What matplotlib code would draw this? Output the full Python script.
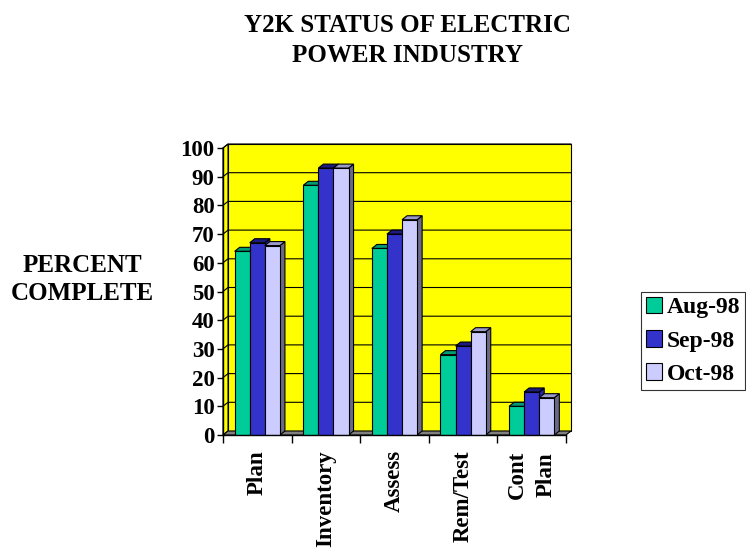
import numpy as np
import matplotlib
matplotlib.use("Agg")
import matplotlib.pyplot as plt
from matplotlib.patches import Polygon, Rectangle, Patch

categories = ["Plan", "Inventory", "Assess", "Rem/Test", "Cont\nPlan"]
series_names = ["Aug-98", "Sep-98", "Oct-98"]
aug_98 = [64, 87, 65, 28, 10]
sep_98 = [67, 93, 70, 31, 15]
oct_98 = [66, 93, 75, 36, 13]
y_ticks = list(range(0, 101, 10))

# front, top and side shades for each series
face_colors = ["#00cc99", "#3333cc", "#ccccff"]
top_colors = ["#009a73", "#1c1c80", "#9a9acc"]
side_colors = ["#007a5c", "#262699", "#6a6a88"]

FONT = "Liberation Serif"
W, H, DPI = 7.46, 5.52, 100
fig = plt.figure(figsize=(W, H), dpi=DPI)

ax_left, ax_bottom, ax_w, ax_h = 223 / 746, 1 - 435 / 552, 343 / 746, 287 / 552
ax = fig.add_axes([ax_left, ax_bottom, ax_w, ax_h])
ax.set_xlim(0, 5)
ax.set_ylim(0, 100)
ax.set_facecolor("none")

# 3d depth offset in pixels, turned into data units
dx = 5 / (ax_w * W * DPI / 5)
dy = 4 / (ax_h * H * DPI / 100)


def poly(pts, fc, z, lw=0.8):
    ax.add_patch(Polygon(pts, closed=True, facecolor=fc, edgecolor="black",
                         linewidth=lw, clip_on=False, zorder=z))


# back wall, left side wall and floor
poly([(dx, dy), (5 + dx, dy), (5 + dx, 100 + dy), (dx, 100 + dy)], "#ffff00", 0)
poly([(0, 0), (dx, dy), (dx, 100 + dy), (0, 100)], "#ffff00", 0)
for y in y_ticks[1:]:
    ax.plot([0, dx, 5 + dx], [y, y + dy, y + dy], color="black", lw=0.8,
            clip_on=False, zorder=1)
poly([(0, 0), (5, 0), (5 + dx, dy), (dx, dy)], "#808080", 1)

bar_w = 0.22
series = [aug_98, sep_98, oct_98]
for i, cat in enumerate(categories):
    center = i + 0.5
    for j, vals in enumerate(series):
        v = vals[i]
        x0 = center + (j - 1.5) * bar_w
        x1 = x0 + bar_w
        z = 3 + j
        poly([(x1, 0), (x1 + dx, dy), (x1 + dx, v + dy), (x1, v)], side_colors[j], z)
        poly([(x0, v), (x1, v), (x1 + dx, v + dy), (x0 + dx, v + dy)], top_colors[j], z)
        ax.add_patch(Rectangle((x0, 0), bar_w, v, facecolor=face_colors[j],
                               edgecolor="black", linewidth=0.8, zorder=z))

for s in ["top", "right"]:
    ax.spines[s].set_visible(False)
ax.spines["left"].set_linewidth(1.0)
ax.spines["bottom"].set_linewidth(1.0)
ax.spines["left"].set_zorder(10)
ax.spines["bottom"].set_zorder(10)

ax.set_yticks(y_ticks)
ax.set_yticklabels([str(t) for t in y_ticks], fontfamily=FONT,
                   fontweight="bold", fontsize=16.5)
ax.tick_params(axis="y", direction="out", length=4, width=1, pad=2)

ax.set_xticks(np.arange(6), minor=True)
ax.set_xticks(np.arange(5) + 0.5)
ax.set_xticklabels(categories, rotation=90, va="top", ha="center",
                   fontfamily=FONT, fontweight="bold", fontsize=16.5,
                   linespacing=1.45)
ax.tick_params(axis="x", which="major", length=0, pad=11)
ax.tick_params(axis="x", which="minor", direction="out", length=6, width=1)

fig.text(0.546, 0.975, "Y2K STATUS OF ELECTRIC\nPOWER INDUSTRY", ha="center",
         va="top", fontfamily=FONT, fontweight="bold", fontsize=18,
         linespacing=1.38)
fig.text(0.11, 0.494, "PERCENT\nCOMPLETE", ha="center", va="center",
         fontfamily=FONT, fontweight="bold", fontsize=18, linespacing=1.3)

handles = [Patch(facecolor=c, edgecolor="black", linewidth=0.8) for c in face_colors]
leg = fig.legend(handles, series_names, loc="upper left",
                 bbox_to_anchor=(641 / 746, 1 - 292 / 552),
                 prop={"family": FONT, "weight": "bold", "size": 17},
                 frameon=True, fancybox=False, edgecolor="black",
                 handlelength=0.7, handleheight=0.7, handletextpad=0.2,
                 borderpad=0.2, labelspacing=0.5, borderaxespad=0)
leg.get_frame().set_linewidth(0.8)

fig.savefig("out.png", dpi=DPI)
